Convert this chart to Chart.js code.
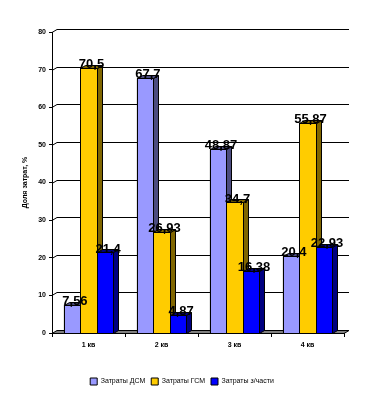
<!DOCTYPE html>
<html>
<head>
<meta charset="utf-8">
<script src="https://cdn.jsdelivr.net/npm/chart.js@4.4.1/dist/chart.umd.min.js"></script>
<style>
  html, body { margin: 0; padding: 0; background: #fff; }
  #wrap { width: 366px; height: 395px; position: relative; }
</style>
</head>
<body>
<div id="wrap"><canvas id="grafico"></canvas></div>
<script>
const kvartaly = ["1 кв", "2 кв", "3 кв", "4 кв"];
const zatratyDSM = [7.56, 67.7, 48.87, 20.4];
const zatratyGSM = [70.5, 26.93, 34.7, 55.87];
const zatratyZch = [21.4, 4.87, 16.38, 22.93];
const yTicks = [0, 10, 20, 30, 40, 50, 60, 70, 80];

const DX = 5, DY = -3; // глубина 3D

// задняя стенка, пол и объёмные столбцы
const bars3d = {
  id: "bars3d",
  beforeDatasetsDraw(chart) {
    const { ctx, chartArea: a, scales: { y } } = chart;
    ctx.save();
    ctx.lineWidth = 1;
    ctx.strokeStyle = "#000";
    yTicks.forEach(v => {
      if (v === 0) return;
      const py = Math.round(y.getPixelForValue(v)) + 0.5;
      ctx.beginPath();
      ctx.moveTo(a.left, py);
      ctx.lineTo(a.left + DX, py + DY);
      ctx.lineTo(a.right + DX, py + DY);
      ctx.stroke();
    });
    const py0 = Math.round(y.getPixelForValue(0)) + 0.5;
    ctx.fillStyle = "#808080";
    ctx.beginPath();
    ctx.moveTo(a.left, py0);
    ctx.lineTo(a.left + DX, py0 + DY);
    ctx.lineTo(a.right + DX, py0 + DY);
    ctx.lineTo(a.right, py0);
    ctx.closePath();
    ctx.fill();
    ctx.stroke();
    ctx.restore();
  },
  afterDatasetsDraw(chart) {
    const { ctx } = chart;
    ctx.save();
    ctx.lineWidth = 1;
    ctx.strokeStyle = "#000";
    // перерисовываем столбцы слева направо, чтобы грани перекрывались правильно
    chart.data.datasets.forEach((ds, i) => {
      chart.getDatasetMeta(i).data.forEach(bar => {
        const x1 = Math.round(bar.x - bar.width / 2) + 0.5;
        const x2 = Math.round(bar.x + bar.width / 2) + 0.5;
        const top = Math.round(bar.y) + 0.5, base = Math.round(bar.base) + 0.5;
        ctx.fillStyle = ds.backgroundColor;
        ctx.fillRect(x1, top, x2 - x1, base - top);
        ctx.strokeRect(x1, top, x2 - x1, base - top);
        ctx.fillStyle = ds.sideColor;
        ctx.beginPath();
        ctx.moveTo(x2, top);
        ctx.lineTo(x2 + DX, top + DY);
        ctx.lineTo(x2 + DX, base + DY);
        ctx.lineTo(x2, base);
        ctx.closePath();
        ctx.fill();
        ctx.stroke();
        ctx.beginPath();
        ctx.moveTo(x1, top);
        ctx.lineTo(x1 + DX, top + DY);
        ctx.lineTo(x2 + DX, top + DY);
        ctx.lineTo(x2, top);
        ctx.closePath();
        ctx.fill();
        ctx.stroke();
      });
    });
    ctx.font = "bold 13px 'Liberation Sans', Arial, sans-serif";
    ctx.textAlign = "center";
    ctx.textBaseline = "bottom";
    ctx.fillStyle = "#000";
    chart.data.datasets.forEach((ds, i) => {
      chart.getDatasetMeta(i).data.forEach((bar, j) => {
        const txt = String(ds.data[j]).replace(".", ",");
        ctx.fillText(txt, bar.x + 3, bar.y + 3);
      });
    });
    ctx.restore();
  }
};

const ctx = document.getElementById("grafico");
const smallFont = { family: "'Liberation Sans', Arial, sans-serif", size: 7, weight: "bold" };
const legendFont = { family: "'Liberation Sans', Arial, sans-serif", size: 7 };

new Chart(ctx, {
  type: "bar",
  data: {
    labels: kvartaly,
    datasets: [
      { label: "Затраты ДСМ", data: zatratyDSM, backgroundColor: "#9999ff", sideColor: "#4c4c80", borderColor: "#000", borderWidth: 1 },
      { label: "Затраты ГСМ", data: zatratyGSM, backgroundColor: "#ffcc00", sideColor: "#806600", borderColor: "#000", borderWidth: 1 },
      { label: "Затраты з/части", data: zatratyZch, backgroundColor: "#0000ff", sideColor: "#000080", borderColor: "#000", borderWidth: 1 }
    ]
  },
  options: {
    responsive: true,
    maintainAspectRatio: false,
    animation: false,
    layout: { padding: { left: 20, right: 22, top: 32, bottom: 0 } },
    categoryPercentage: 0.68,
    barPercentage: 1,
    plugins: {
      tooltip: { enabled: false },
      legend: {
        position: "bottom",
        labels: { boxWidth: 7, boxHeight: 7, font: legendFont, color: "#000", padding: 6 }
      }
    },
    scales: {
      x: {
        grid: { offset: true, drawOnChartArea: false, color: "#000", tickLength: 4 },
        border: { color: "#000" },
        ticks: { font: smallFont, color: "#000", padding: 4 },
        afterFit: s => { s.height = 39; }
      },
      y: {
        min: 0, max: 80,
        afterBuildTicks: s => { s.ticks = yTicks.map(v => ({ value: v })); },
        grid: { drawOnChartArea: false, color: "#000", tickLength: 3 },
        border: { color: "#000" },
        ticks: { font: smallFont, color: "#000", padding: 3 },
        title: { display: true, text: "Доля затрат, %", font: smallFont, color: "#000", padding: { top: 1 } },
        afterFit: s => { s.width = 32; }
      }
    }
  },
  plugins: [bars3d]
});
</script>
</body>
</html>
